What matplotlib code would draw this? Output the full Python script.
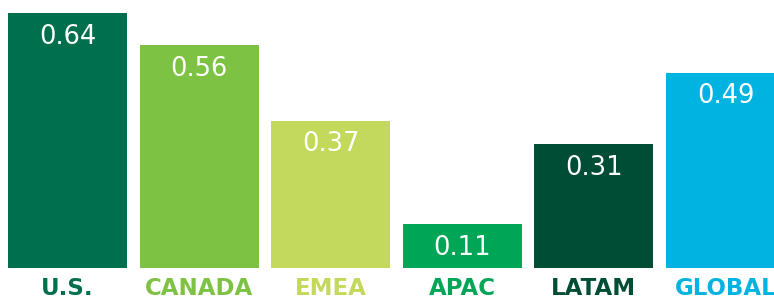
import matplotlib

matplotlib.use("Agg")
import matplotlib.pyplot as plt

regions = ["U.S.", "CANADA", "EMEA", "APAC", "LATAM", "GLOBAL"]
values = [0.64, 0.56, 0.37, 0.11, 0.31, 0.49]
colors = ["#006F4E", "#7DC243", "#C2D95B", "#00A556", "#004D35", "#00B3E0"]

fig = plt.figure(figsize=(7.74, 3.01), dpi=100)
ax = fig.add_axes([0, 33 / 301, 1, 268 / 301])

x = range(len(regions))
bars = ax.bar(x, values, width=0.905, color=colors)

# valeurs en blanc dans le haut de chaque barre
for bar, v in zip(bars, values):
    ax.annotate(f"{v:.2f}", (bar.get_x() + bar.get_width() / 2, v),
                xytext=(0, -17), textcoords="offset points",
                ha="center", va="center", color="white",
                fontsize=18.5, family="DejaVu Sans")

ax.set_xlim(-0.513, 5.369)
ax.set_ylim(0, 0.6727)
ax.set_xticks(list(x))
ax.set_xticklabels(regions, fontsize=16.5, fontweight="bold", family="DejaVu Sans")
for lbl, c in zip(ax.get_xticklabels(), colors):
    lbl.set_color(c)
ax.tick_params(axis="x", length=0, pad=6.5)
ax.set_yticks([])
for s in ax.spines.values():
    s.set_visible(False)

fig.savefig("out.png", dpi=100)
